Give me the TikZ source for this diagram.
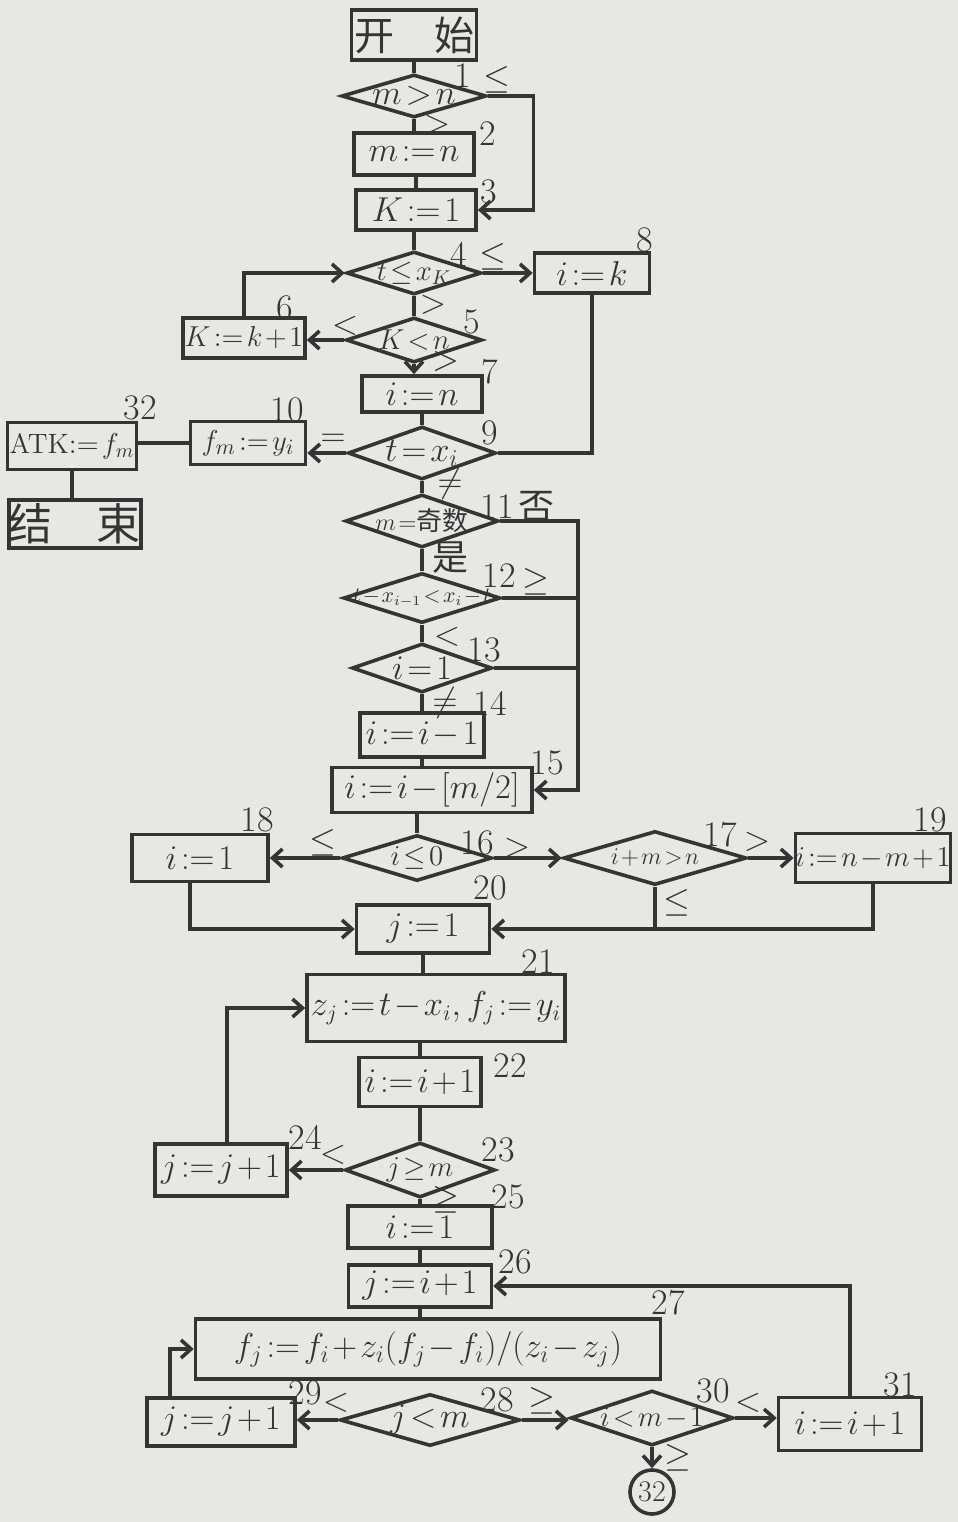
\documentclass[tikz,border=0pt]{standalone}
\usepackage{amsmath, amssymb}
\usepackage{fontspec}
\newfontfamily\cjk{Noto Sans CJK SC}
\usepackage{tikz}
\usetikzlibrary{shapes.geometric, arrows.meta}
\usepackage{xcolor}
\definecolor{paper}{RGB}{231,231,228}
\definecolor{ink}{RGB}{52,52,52}
\newcommand\tight{\thickmuskip=2mu\medmuskip=1.5mu}

\tikzset{
  box/.style={draw=ink, line width=1.8pt, inner sep=0pt, text=ink, font=\fontsize{17}{19}\selectfont\tight},
  cond/.style={draw=ink, diamond, line width=1.8pt, inner sep=0pt},
  ctext/.style={text=ink, inner sep=0pt, font=\fontsize{#1}{#1}\selectfont\tight},
  ctext/.default=15,
  num/.style={text=ink, inner sep=0pt, font=\fontsize{18}{20}\selectfont},
  flow/.style={draw=ink, line width=1.8pt},
  arr/.style={flow, -{Straight Barb[length=5pt, width=9pt]}},
}

\begin{document}
\begin{tikzpicture}[x=0.5pt, y=-0.5pt]
\fill[paper] (0,0) rectangle (958,1522);

% upper part: start, m>n, search for the interval
\node[box, minimum width=62.5pt, minimum height=25pt] (start) at (414,35) {\cjk\fontsize{20}{22}\selectfont 开\quad 始};
\node[cond, minimum width=72.5pt, minimum height=21.5pt, label={[ctext=16]center:$m>n$}] (d1) at (414,96) {};
\node[box, minimum width=60pt, minimum height=21pt] (b2) at (414,154) {$m:=n$};
\node[box, minimum width=60pt, minimum height=20pt] (b3) at (416,210) {$K:=1$};
\node[cond, minimum width=67.5pt, minimum height=21.5pt, label={[ctext=14]center:$t\le x_K$}] (d4) at (414,273) {};
\node[box, minimum width=57.5pt, minimum height=20pt] (b8) at (592,273) {$i:=k$};
\node[cond, minimum width=68pt, minimum height=22.5pt, label={[ctext=14]center:$K<n$}] (d5) at (414,340) {};
\node[box, minimum width=61pt, minimum height=20pt, font=\fontsize{15}{17}\selectfont\tight] (b6) at (244,338) {$K:=k+1$};
\node[box, minimum width=60pt, minimum height=18pt] (b7) at (422,394) {$i:=n$};
\node[cond, minimum width=74pt, minimum height=26.5pt, label={[ctext=17]center:$t=x_i$}] (d9) at (422,453) {};
\node[box, minimum width=57.5pt, minimum height=21.5pt, font=\fontsize{15}{17}\selectfont\tight] (b10) at (248,443) {$f_m:=y_i$};
\node[box, minimum width=64.5pt, minimum height=23.5pt, font=\fontsize{14}{16}\selectfont\tight] (b32) at (72,446) {ATK$:=f_m$};
\node[box, minimum width=62pt, minimum height=24pt] (end) at (75,524) {\cjk\fontsize{22}{24}\selectfont 结\quad 束};

% choice of the first point
\node[cond, minimum width=76.5pt, minimum height=26.5pt, label={[ctext=13]center:$m=${\cjk 奇数}}] (d11) at (422,521) {};
\node[cond, minimum width=78.5pt, minimum height=25pt, label={[ctext=10.5]center:$t-x_{i-1}<x_i-t$}] (d12) at (422,598) {};
\node[cond, minimum width=70pt, minimum height=24.5pt, label={[ctext=17]center:$i=1$}] (d13) at (422,668) {};
\node[box, minimum width=62pt, minimum height=22pt] (b14) at (422,735) {$i:=i-1$};
\node[box, minimum width=100pt, minimum height=22.5pt] (b15) at (432,790) {$i:=i-[m/2]$};
\node[cond, minimum width=75pt, minimum height=23pt, label={[ctext=15]center:$i\le 0$}] (d16) at (417,858) {};
\node[box, minimum width=68pt, minimum height=23.5pt] (b18) at (200,858) {$i:=1$};
\node[cond, minimum width=91.5pt, minimum height=27pt, label={[ctext=13]center:$i+m>n$}] (d17) at (655,858) {};
\node[box, minimum width=75pt, minimum height=24.5pt, font=\fontsize{14}{16}\selectfont\tight] (b19) at (873,858) {$i:=n-m+1$};

% copying the points
\node[box, minimum width=66.5pt, minimum height=24pt] (b20) at (423,929) {$j:=1$};
\node[box, minimum width=129pt, minimum height=33.5pt, font=\fontsize{16}{18}\selectfont\tight] (b21) at (436,1008) {$z_j:=t-x_i, f_j:=y_i$};
\node[box, minimum width=61pt, minimum height=24.5pt] (b22) at (420,1082) {$i:=i+1$};
\node[cond, minimum width=75pt, minimum height=27.5pt, label={[ctext=15]center:$j\ge m$}] (d23) at (420,1170) {};
\node[box, minimum width=66pt, minimum height=26pt] (b24) at (221,1170) {$j:=j+1$};

% Aitken scheme
\node[box, minimum width=72pt, minimum height=21pt] (b25) at (420,1227) {$i:=1$};
\node[box, minimum width=71.5pt, minimum height=21pt] (b26) at (420,1286) {$j:=i+1$};
\node[box, minimum width=232.5pt, minimum height=30pt, font=\fontsize{18}{20}\selectfont\tight] (b27) at (428,1349) {$f_j:=f_i+z_i(f_j-f_i)/(z_i-z_j)$};
\node[cond, minimum width=90pt, minimum height=26pt, label={[ctext=17]center:$j<m$}] (d28) at (430,1420) {};
\node[box, minimum width=74pt, minimum height=24pt] (b29) at (221,1422) {$j:=j+1$};
\node[cond, minimum width=81.5pt, minimum height=27.5pt, label={[ctext=14]center:$i<m-1$}] (d30) at (652,1418) {};
\node[box, minimum width=71.5pt, minimum height=26.5pt] (b31) at (850,1424) {$i:=i+1$};
\node[circle, draw=ink, line width=1.8pt, minimum size=22pt, inner sep=0pt, text=ink, font=\fontsize{15}{17}\selectfont] (c32) at (652,1492) {32};

% connectors
\draw[flow] (start) -- (d1);
\draw[flow] (d1) -- (b2);
\draw[flow] (b2) -- (b3 |- b2.south) -- (b3);
\draw[arr] (d1.east) -- ++(45,0) |- (b3.east);
\draw[flow] (b3.south -| d4.north) -- (d4);
\draw[arr] (d4.east) -- (b8.west);
\draw[flow] (d4) -- (d5);
\draw[arr] (d5.west) -- (d5.west -| b6.east);
\draw[arr] (b6.north) |- (d4.west);
\draw[arr] (d5.south) -- (d5.south |- b7.north);
\draw[flow] (b7) -- (d9);
\draw[flow] (b8.south) |- (d9.east);
\draw[arr] (d9.west) -- (d9.west -| b10.east);
\draw[flow] (b10.west) -- (b10.west -| b32.east);
\draw[flow] (b32) -- (b32 |- end.north);
\draw[flow] (d9) -- (d11);
\draw[flow] (d11) -- (d12);
\draw[flow] (d12) -- (d13);
\draw[flow] (d13) -- (b14);
\draw[flow] (b14.south) -- (b14.south |- b15.north);
\coordinate (rr) at (578,0);
\draw[arr] (d11.east) -- (d11.east -| rr) |- (b15.east);
\draw[flow] (d12.east) -- (d12.east -| rr);
\draw[flow] (d13.east) -- (d13.east -| rr);
\draw[flow] (d16.north |- b15.south) -- (d16.north);
\draw[arr] (d16.west) -- (b18.east);
\draw[arr] (d16.east) -- (d17.west);
\draw[arr] (d17.east) -- (b19.west);
\draw[flow] (d17.south) -- (d17.south |- b20.east);
\draw[arr] (b19.south) |- (b20.east);
\draw[arr] ([xshift=-5pt]b18.south) |- (b20.west);
\draw[flow] (b20) -- (b20 |- b21.north);
\draw[flow] (b22 |- b21.south) -- (b22);
\draw[flow] (b22) -- (d23);
\draw[arr] (d23.west) -- (b24.east);
\draw[arr] ([xshift=3pt]b24.north) |- (b21.west);
\draw[flow] (d23) -- (b25);
\draw[flow] (b25) -- (b26);
\draw[flow] (b26) -- (b26 |- b27.north);
\draw[arr] (d28.west) -- (d28.west -| b29.east);
\draw[arr] (b29.north west) ++(25,0) |- (b27.west);
\draw[arr] (d28.east) -- (d28.east -| d30.west);
\draw[arr] (d30.east) -- (d30.east -| b31.west);
\draw[arr] (b31.north) |- (b26.east);
\draw[arr] (d30.south) -- (c32.north);

% step numbers
\node[num] (n1) at (463,76) {1};
\node[num] (n2) at (488,134) {2};
\node[num] (n3) at (489,192) {3};
\node[num] (n4) at (459,254) {4};
\node[num] (n5) at (472,322) {5};
\node[num] (n6) at (285,308) {6};
\node[num] (n7) at (490,372) {7};
\node[num] (n8) at (645,240) {8};
\node[num] (n9) at (490,433) {9};
\node[num] (n10) at (287,410) {10};
\node[num] (n11) at (497,507) {11};
\node[num] (n12) at (499,576) {12};
\node[num] (n13) at (484,650) {13};
\node[num] (n14) at (490,703) {14};
\node[num] (n15) at (547,763) {15};
\node[num] (n16) at (477,843) {16};
\node[num] (n17) at (720,835) {17};
\node[num] (n18) at (257,820) {18};
\node[num] (n19) at (930,820) {19};
\node[num] (n20) at (490,888) {20};
\node[num] (n21) at (538,962) {21};
\node[num] (n22) at (510,1066) {22};
\node[num] (n23) at (498,1150) {23};
\node[num] (n24) at (305,1137) {24};
\node[num] (n25) at (508,1197) {25};
\node[num] (n26) at (515,1262) {26};
\node[num] (n27) at (668,1303) {27};
\node[num] (n28) at (497,1400) {28};
\node[num] (n29) at (305,1393) {29};
\node[num] (n30) at (713,1391) {30};
\node[num] (n31) at (900,1385) {31};
\node[num] (n32) at (140,408) {32};

% branch marks
\node[num] (l1a) at (497,80) {$\le$};
\node[num] (l1b) at (437,125) {$>$};
\node[num] (l4a) at (493,257) {$\le$};
\node[num] (l4b) at (433,305) {$>$};
\node[num] (l5a) at (345,326) {$<$};
\node[num] (l5b) at (446,365) {$\ge$};
\node[num] (l9a) at (333,440) {$=$};
\node[num] (l9b) at (450,484) {$\ne$};
\node[num] (l11a) at (536,507) {\cjk 否};
\node[num] (l11b) at (450,558) {\cjk 是};
\node[num] (l12a) at (536,582) {$\ge$};
\node[num] (l12b) at (447,637) {$<$};
\node[num] (l13b) at (445,703) {$\ne$};
\node[num] (l16a) at (323,843) {$\le$};
\node[num] (l16b) at (517,848) {$>$};
\node[num] (l17a) at (757,842) {$>$};
\node[num] (l17b) at (677,903) {$\le$};
\node[num] (l23a) at (333,1155) {$<$};
\node[num] (l23b) at (446,1200) {$\ge$};
\node[num] (l28a) at (336,1403) {$<$};
\node[num] (l28b) at (542,1401) {$\ge$};
\node[num] (l30a) at (748,1403) {$<$};
\node[num] (l30b) at (678,1458) {$\ge$};
\end{tikzpicture}
\end{document}
